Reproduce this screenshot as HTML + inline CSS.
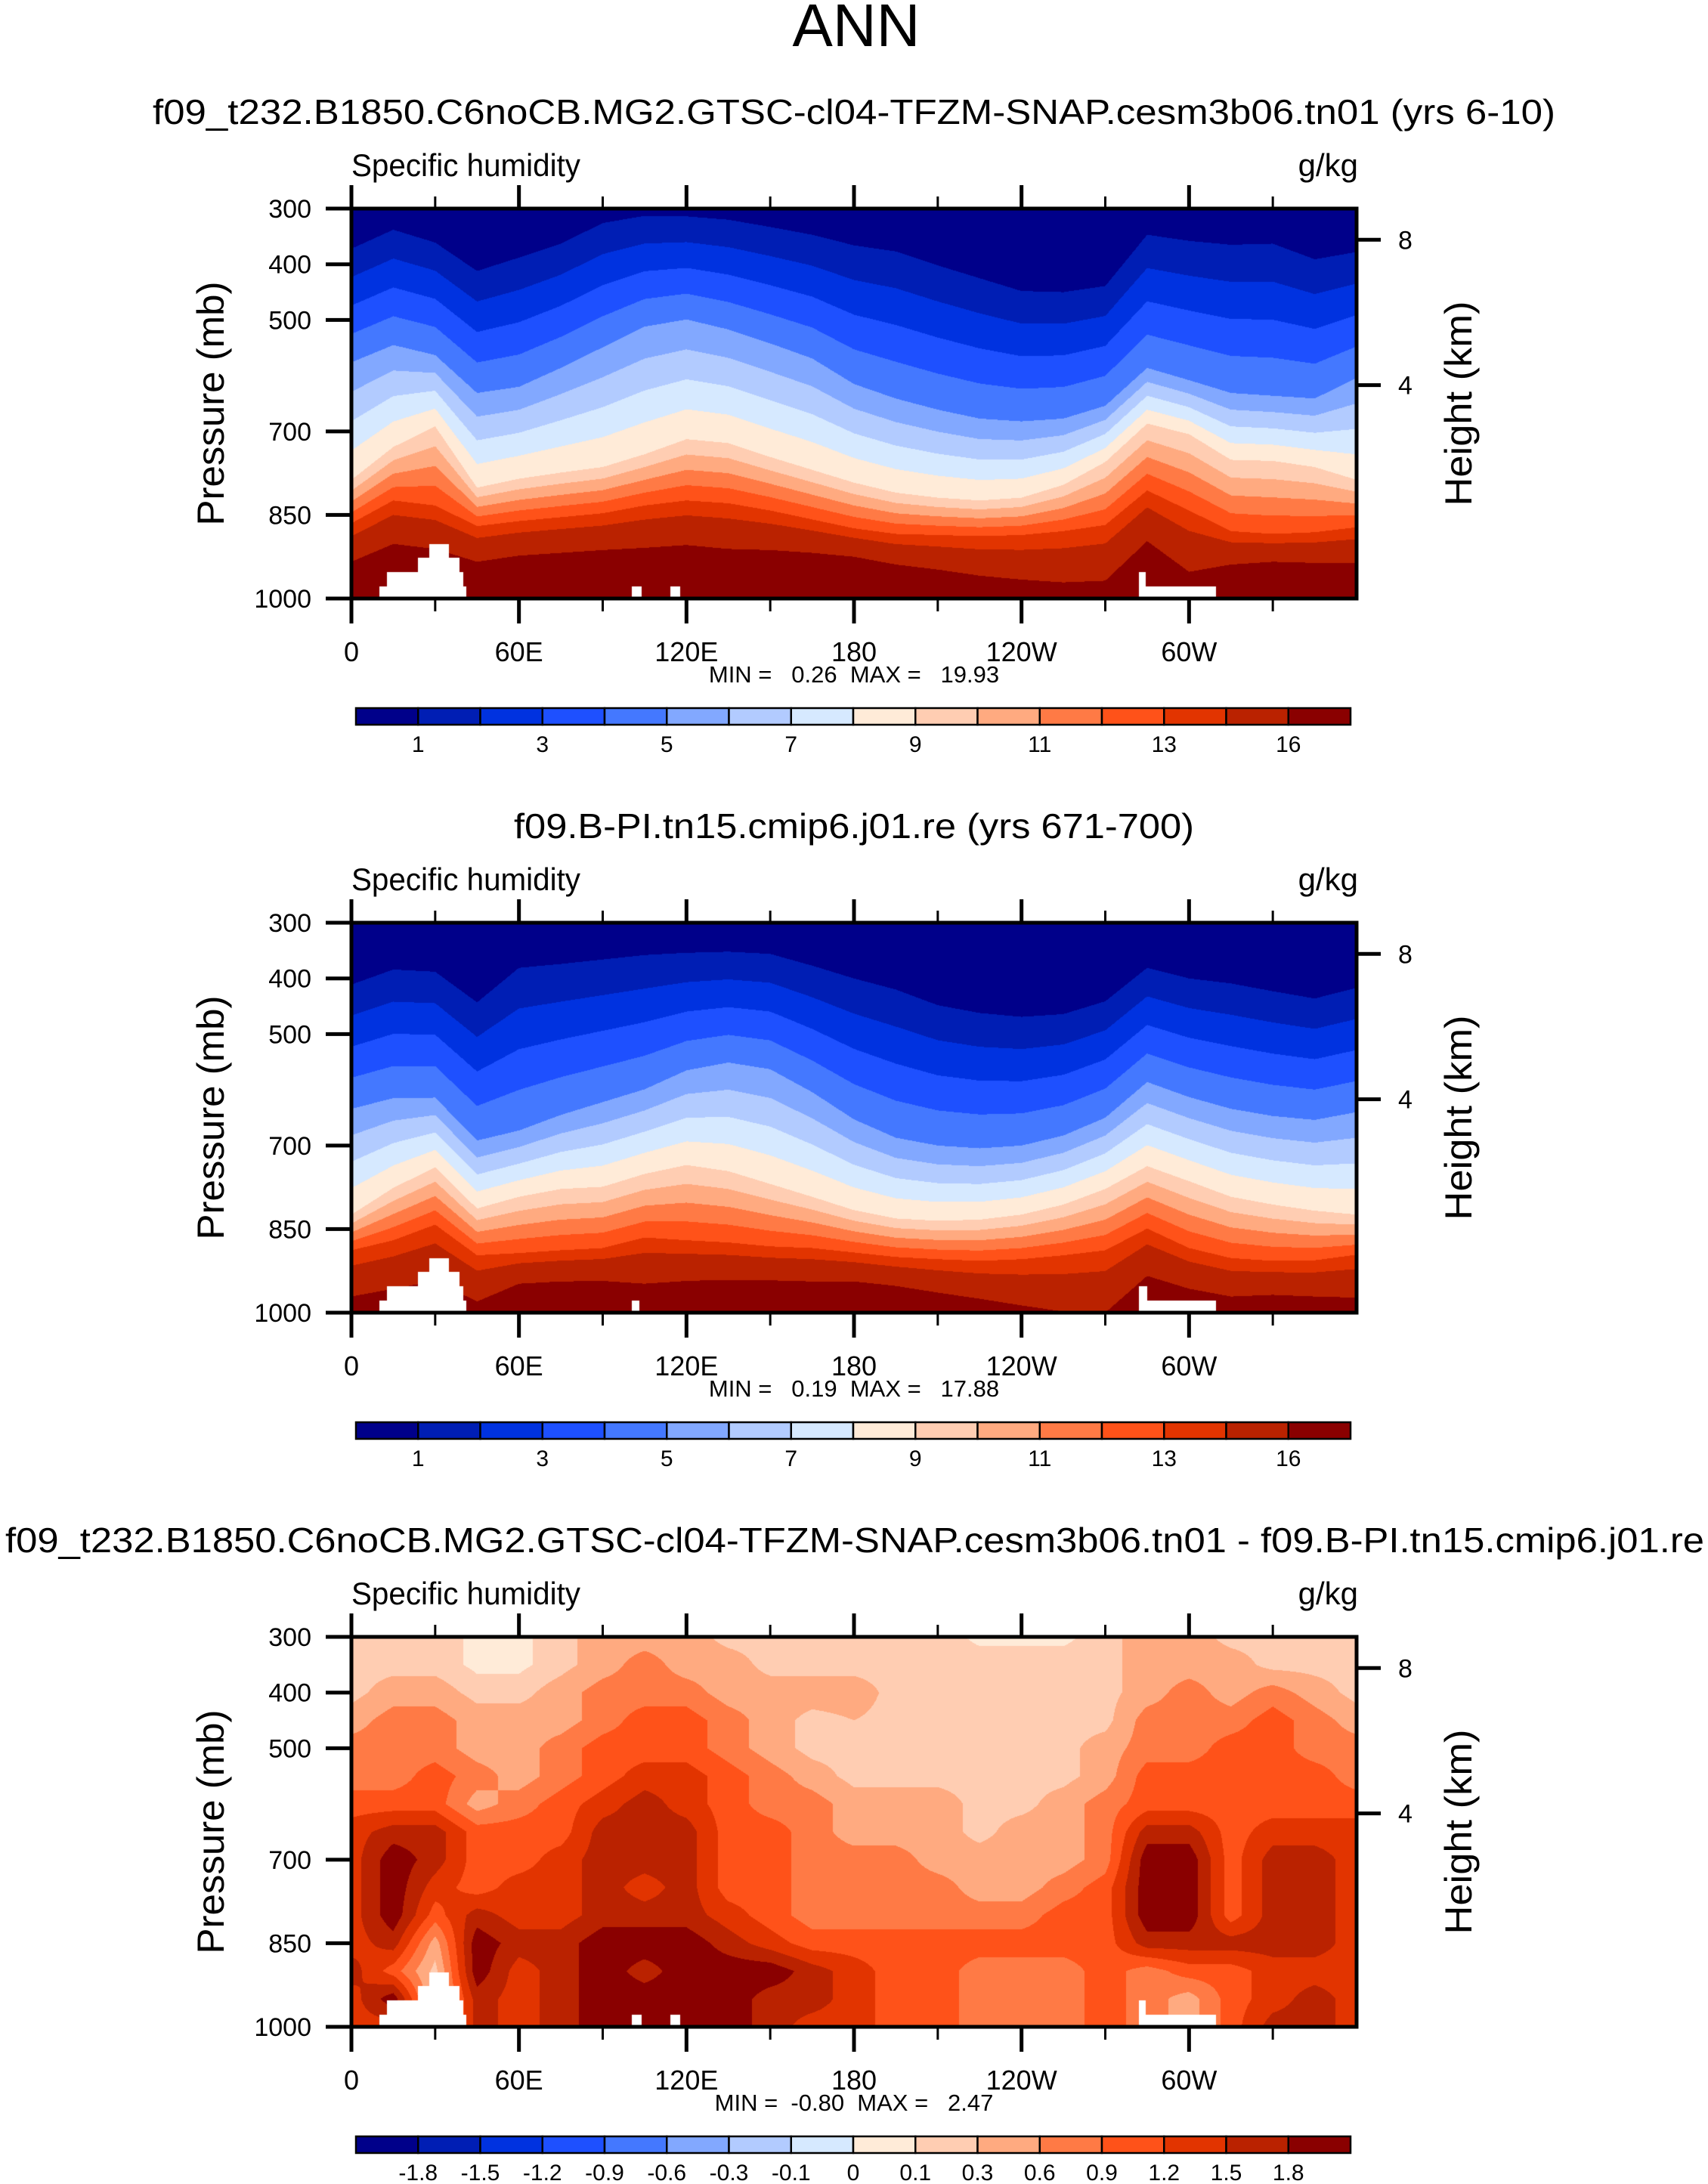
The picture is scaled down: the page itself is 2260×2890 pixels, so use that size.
<!DOCTYPE html>
<html><head><meta charset="utf-8">
<style>
html,body{margin:0;padding:0;background:#fff;}
#wrap{position:relative;width:2260px;height:2890px;overflow:hidden;background:#fff;}
canvas{position:absolute;}
svg{position:absolute;left:0;top:0;}
text{font-family:"Liberation Sans",sans-serif;fill:#000;}
</style></head>
<body>
<div id="wrap">
<canvas id="c0" width="1330" height="516" style="left:465px;top:276px"></canvas>
<canvas id="c1" width="1330" height="516" style="left:465px;top:1221px"></canvas>
<canvas id="c2" width="1330" height="516" style="left:465px;top:2166px"></canvas>
<svg id="ov" width="2260" height="2890">
<text x="1133" y="61" font-size="80" text-anchor="middle">ANN</text>
</svg>
</div>
<script>
// ---------- data ----------
const lonGrid = [0,15,30,45,60,75,90,105,120,135,150,165,180,195,210,225,240,255,270,285,300,315,330,345,360];
// Panel 1 (test case): pressure (mb) where q reaches 1,5,9,13,16 g/kg
const p1_q1  = [372,338,361,412,388,363,326,313,314,320,333,347,366,377,402,425,448,450,439,347,358,365,363,391,378];
const p1_q5  = [576,545,563,631,620,586,549,512,499,517,542,569,615,641,661,677,682,677,654,586,608,631,636,641,604];
const p1_q9  = [787,728,691,801,785,774,764,741,714,721,746,769,792,810,819,824,819,796,755,686,705,751,753,764,787];
const p1_q13 = [865,824,833,870,861,854,847,833,824,829,842,858,874,884,886,888,886,879,868,806,842,879,884,881,872];
const p1_q16 = [934,902,911,934,923,918,913,909,904,911,913,918,925,939,948,959,966,971,968,897,952,939,934,936,936];
// Panel 2 (control)
const p2_q1  = [411,384,388,443,381,374,366,358,354,352,356,377,400,420,448,462,469,464,441,381,400,409,423,436,417];
const p2_q5  = [634,615,614,691,673,645,622,599,565,551,563,604,653,686,700,705,700,682,650,586,613,634,647,654,640];
const p2_q9  = [824,776,739,813,792,778,774,751,735,746,769,792,816,831,835,833,824,806,778,737,764,792,806,817,824];
const p2_q13 = [888,870,842,897,893,888,884,865,870,874,881,884,892,900,904,907,904,897,888,849,884,902,907,906,896];
const p2_q16 = [971,957,943,980,948,944,943,948,943,941,942,944,944,952,964,975,987,998,1000,934,957,971,968,971,973];
const anchorLevels = [1,5,9,13,16];
const qLevels = [1,2,3,4,5,6,7,8,9,10,11,12,13,14,16];
// Difference panel: rows = pressure, cols = lonGrid (g/kg)
const diffP = [300,350,400,450,500,550,600,650,700,750,800,850,900,950,1000];
const diffVals = [
 [0.2,0.2,0.2,0.05,0.05,0.2,0.45,0.45,0.45,0.2,0.2,0.2,0.2,0.2,0.2,0.05,0.05,0.05,0.2,0.45,0.45,0.2,0.2,0.2,0.2],
 [0.2,0.2,0.2,0.05,0.05,0.2,0.45,0.75,0.45,0.45,0.2,0.2,0.2,0.2,0.2,0.2,0.2,0.2,0.2,0.45,0.45,0.45,0.2,0.2,0.2],
 [0.2,0.45,0.45,0.2,0.2,0.45,0.75,0.75,0.75,0.45,0.45,0.45,0.45,0.2,0.2,0.2,0.2,0.2,0.2,0.45,0.75,0.45,0.75,0.45,0.2],
 [0.45,0.75,0.75,0.45,0.45,0.45,0.75,1.05,1.05,0.75,0.45,0.2,0.3,0.2,0.2,0.2,0.2,0.2,0.2,0.75,0.75,0.75,1.05,0.75,0.45],
 [0.75,0.75,0.75,0.45,0.45,0.75,1.05,1.05,1.05,0.75,0.45,0.2,0.2,0.2,0.2,0.2,0.2,0.2,0.45,0.75,0.75,1.05,1.05,0.75,0.75],
 [0.75,0.75,1.05,0.75,0.45,0.75,1.05,1.35,1.35,1.05,0.75,0.45,0.2,0.2,0.2,0.2,0.2,0.2,0.45,1.05,1.05,1.05,1.05,1.05,0.75],
 [1.05,1.05,1.05,0.45,0.75,1.05,1.35,1.65,1.35,1.05,0.75,0.75,0.45,0.45,0.45,0.2,0.2,0.45,0.75,1.05,1.05,1.05,1.05,1.05,1.05],
 [1.35,1.65,1.65,1.05,1.05,1.05,1.65,1.65,1.65,1.05,1.05,0.75,0.45,0.45,0.45,0.2,0.45,0.45,0.75,1.65,1.65,1.05,1.35,1.35,1.35],
 [1.35,2.0,1.65,1.05,1.05,1.35,1.65,1.65,1.65,1.05,1.05,0.75,0.75,0.75,0.45,0.45,0.45,0.45,0.75,2.0,2.0,1.05,1.65,1.65,1.35],
 [1.35,2.0,1.35,1.05,1.35,1.35,1.65,1.35,1.65,1.05,1.05,0.75,0.75,0.75,0.75,0.45,0.45,0.75,1.05,2.0,2.0,1.05,1.65,1.65,1.35],
 [1.35,2.0,1.05,1.65,1.35,1.35,1.65,1.65,1.65,1.35,1.05,0.75,0.75,0.75,0.75,0.75,0.75,1.05,1.05,2.0,2.0,1.05,1.65,1.65,1.35],
 [1.35,1.65,0.45,2.0,1.65,1.65,2.0,2.0,2.0,1.65,1.35,1.05,1.05,1.05,1.05,1.05,1.05,1.05,1.05,1.65,1.65,1.65,1.65,1.65,1.35],
 [1.65,1.05,0.2,2.0,1.35,1.65,2.0,1.65,2.0,2.0,2.0,1.65,1.35,1.05,1.05,0.75,0.75,0.75,1.05,0.75,1.05,1.05,1.35,1.35,1.35],
 [1.35,2.0,0.2,1.65,1.35,1.65,2.0,2.0,2.0,2.0,1.65,1.65,1.35,1.05,1.05,0.75,0.75,0.75,1.05,0.75,0.45,1.05,1.35,1.65,1.35],
 [1.35,1.35,0.2,1.65,1.35,1.65,2.0,2.0,2.0,2.0,1.65,1.35,1.35,1.05,1.05,0.75,0.75,0.75,1.05,0.75,0.45,1.05,1.65,1.65,1.35]
];
const diffLevels = [-1.8,-1.5,-1.2,-0.9,-0.6,-0.3,-0.1,0,0.1,0.3,0.6,0.9,1.2,1.5,1.8];
const diffLabels = ["-1.8","-1.5","-1.2","-0.9","-0.6","-0.3","-0.1","0","0.1","0.3","0.6","0.9","1.2","1.5","1.8"];
const qLabels = ["1","","3","","5","","7","","9","","11","","13","","16"];
// Topography masks: [lonStart, lonEnd, pressureTop]
const topoA = [[10,41.2,978],[12.7,40,952],[23.9,38.8,927],[27.8,34.8,902],[100.3,104,978],[114.3,117.8,978],[282.1,284.4,952],[282.1,309.7,978]];
const topoB = [[10,41.2,978],[12.7,40,952],[23.9,38.8,927],[27.8,34.8,902],[100.3,103,978],[282.1,284.9,952],[282.1,309.7,978]];
const xTickLon = [0,60,120,180,240,300];
const xTickLab = ["0","60E","120E","180","120W","60W"];
const xMinorLon = [30,90,150,210,270,330];
const yTickP = [300,400,500,700,850,1000];
const hTickP = [356,617]; // pressure at 8 km and 4 km
const hTickLab = ["8","4"];
const colors = ["#00008a","#001eb4","#0032e0","#1e50ff","#4478ff","#82a8ff","#b2cbff","#d6e9ff","#ffebd8","#ffcdb2","#ffaa80","#ff7a45","#ff5219","#e23400","#ba2200","#8a0000"];
const titles = ["f09_t232.B1850.C6noCB.MG2.GTSC-cl04-TFZM-SNAP.cesm3b06.tn01 (yrs 6-10)","f09.B-PI.tn15.cmip6.j01.re (yrs 671-700)","f09_t232.B1850.C6noCB.MG2.GTSC-cl04-TFZM-SNAP.cesm3b06.tn01 - f09.B-PI.tn15.cmip6.j01.re"];
const minmax = ["MIN =   0.26  MAX =   19.93","MIN =   0.19  MAX =   17.88","MIN =  -0.80  MAX =   2.47"];

// ---------- geometry ----------
const X0=465, X1=1795, Y0=276, Y1=792, OFF=[0,945,1890];
function xScale(lon){return X0+lon/360*(X1-X0);}
function yScale(p,k){return Y0+OFF[k]+(p-300)/700*(Y1-Y0);}
function rgb(h){return [parseInt(h.slice(1,3),16),parseInt(h.slice(3,5),16),parseInt(h.slice(5,7),16)];}
const RGB=colors.map(rgb);
function band(v,lev){let b=0;for(let i=0;i<lev.length;i++){if(v>=lev[i])b=i+1;}return b;}
function lerpArr(a,lon){const f=lon/15;let i=Math.floor(f);if(i>=a.length-1)i=a.length-2;const t=f-i;return a[i]*(1-t)+a[i+1]*t;}
function masked(topo,lon,p){for(const m of topo){if(lon>=m[0]&&lon<=m[1]&&p>=m[2])return true;}return false;}

function drawQ(id,anch,topo){
  const cv=document.getElementById(id),ctx=cv.getContext('2d');
  const W=cv.width,H=cv.height,img=ctx.createImageData(W,H),d=img.data;
  for(let i=0;i<W;i++){
    const lon=(i+0.5)/W*360;
    const ps=anch.map(a=>lerpArr(a,lon));
    for(let j=0;j<H;j++){
      const p=300+(j+0.5)/H*700;
      let q;
      if(p<ps[0]){q=1-(ps[0]-p)*4/(ps[1]-ps[0]);}
      else if(p>=ps[4]){q=16+(p-ps[4])*3/(ps[4]-ps[3]);}
      else{for(let k=0;k<4;k++){if(p>=ps[k]&&p<ps[k+1]){q=anchorLevels[k]+(p-ps[k])/(ps[k+1]-ps[k])*(anchorLevels[k+1]-anchorLevels[k]);break;}}}
      const o=(j*W+i)*4;
      let c=masked(topo,lon,p)?[255,255,255]:RGB[band(q,qLevels)];
      d[o]=c[0];d[o+1]=c[1];d[o+2]=c[2];d[o+3]=255;
    }
  }
  ctx.putImageData(img,0,0);
}
function drawDiff(id,topo){
  const cv=document.getElementById(id),ctx=cv.getContext('2d');
  const W=cv.width,H=cv.height,img=ctx.createImageData(W,H),d=img.data;
  for(let j=0;j<H;j++){
    const p=300+(j+0.5)/H*700;
    const f=(p-300)/50;let r=Math.min(Math.floor(f),diffP.length-2);const tr=f-r;
    for(let i=0;i<W;i++){
      const lon=(i+0.5)/W*360;
      const v=lerpArr(diffVals[r],lon)*(1-tr)+lerpArr(diffVals[r+1],lon)*tr;
      const o=(j*W+i)*4;
      let c=masked(topo,lon,p)?[255,255,255]:RGB[band(v,diffLevels)];
      d[o]=c[0];d[o+1]=c[1];d[o+2]=c[2];d[o+3]=255;
    }
  }
  ctx.putImageData(img,0,0);
}
drawQ('c0',[p1_q1,p1_q5,p1_q9,p1_q13,p1_q16],topoA);
drawQ('c1',[p2_q1,p2_q5,p2_q9,p2_q13,p2_q16],topoB);
drawDiff('c2',topoA);

// ---------- axes & labels ----------
const svg=document.getElementById('ov'),NS='http://www.w3.org/2000/svg';
function el(tag,attrs,txt){const e=document.createElementNS(NS,tag);for(const k in attrs)e.setAttribute(k,attrs[k]);if(txt!==undefined)e.textContent=txt;svg.appendChild(e);return e;}
for(let k=0;k<3;k++){
  const o=OFF[k];
  let t;
  t=el('text',{x:1130,y:164+o,'font-size':46,'text-anchor':'middle'},titles[k]);
  
  
  if(k===0){t.setAttribute('textLength',1856);t.setAttribute('lengthAdjust','spacingAndGlyphs');}
  if(k===1){t.setAttribute('textLength',900);t.setAttribute('lengthAdjust','spacingAndGlyphs');}
  if(k===2){t.setAttribute('textLength',2248);t.setAttribute('lengthAdjust','spacingAndGlyphs');t.setAttribute('x',1131);}
  t=el('text',{x:465,y:233+o,'font-size':42,textLength:303,lengthAdjust:'spacingAndGlyphs'},'Specific humidity');
  
  
  t=el('text',{x:1797,y:233+o,'font-size':42,'text-anchor':'end'},'g/kg');
  
  
  t=el('rect',{x:X0,y:Y0+o,width:X1-X0,height:Y1-Y0,fill:'none',stroke:'#000','stroke-width':5});
  
  
  yTickP.forEach(p=>{
    const y=yScale(p,k);
    t=el('line',{x1:X0-34,x2:X0,y1:y,y2:y,stroke:'#000','stroke-width':5});
    
    
    t=el('text',{x:412,y:y+12,'font-size':34,'text-anchor':'end'},String(p));
    
    
  });
  hTickP.forEach((p,i)=>{
    const y=yScale(p,k);
    t=el('line',{x1:X1,x2:X1+32,y1:y,y2:y,stroke:'#000','stroke-width':5});
    
    
    t=el('text',{x:1850,y:y+12,'font-size':34},hTickLab[i]);
    
    
  });
  xTickLon.forEach((lon,i)=>{
    const x=xScale(lon);
    t=el('line',{x1:x,x2:x,y1:Y0+o-31,y2:Y0+o,stroke:'#000','stroke-width':5});
    
    
    t=el('line',{x1:x,x2:x,y1:Y1+o,y2:Y1+o+33,stroke:'#000','stroke-width':5});
    
    
    t=el('text',{x:x,y:875+o,'font-size':36,'text-anchor':'middle'},xTickLab[i]);
    
    
  });
  xMinorLon.forEach(lon=>{
    const x=xScale(lon);
    t=el('line',{x1:x,x2:x,y1:Y0+o-16,y2:Y0+o,stroke:'#000','stroke-width':3});
    
    
    t=el('line',{x1:x,x2:x,y1:Y1+o,y2:Y1+o+17,stroke:'#000','stroke-width':3});
    
    
  });
  t=el('text',{x:0,y:0,'font-size':50,'text-anchor':'middle',transform:'translate(296,'+(534+o)+') rotate(-90)',textLength:323,lengthAdjust:'spacingAndGlyphs'},'Pressure (mb)');
  
  
  t=el('text',{x:0,y:0,'font-size':50,'text-anchor':'middle',transform:'translate(1947,'+(534+o)+') rotate(-90)',textLength:271,lengthAdjust:'spacingAndGlyphs'},'Height (km)');
  
  
  t=el('text',{x:1130,y:903+o,'font-size':31,'text-anchor':'middle','xml:space':'preserve',style:'white-space:pre'},minmax[k]);
  
  
  // colorbar
  const cbX=471,cbW=1316,bw=cbW/16,cbY=937+o,cbH=22;
  for(let b=0;b<16;b++){
    t=el('rect',{x:cbX+b*bw,y:cbY,width:bw,height:cbH,fill:colors[b],stroke:'#000','stroke-width':2.5});
    
    
  }
  const labs=(k===2)?diffLabels:qLabels;
  labs.forEach((s,b)=>{
    if(!s)return;
    t=el('text',{x:cbX+(b+1)*bw,y:995+o,'font-size':30,'text-anchor':'middle'},s);
    
    
  });
}
</script>
</body></html>
